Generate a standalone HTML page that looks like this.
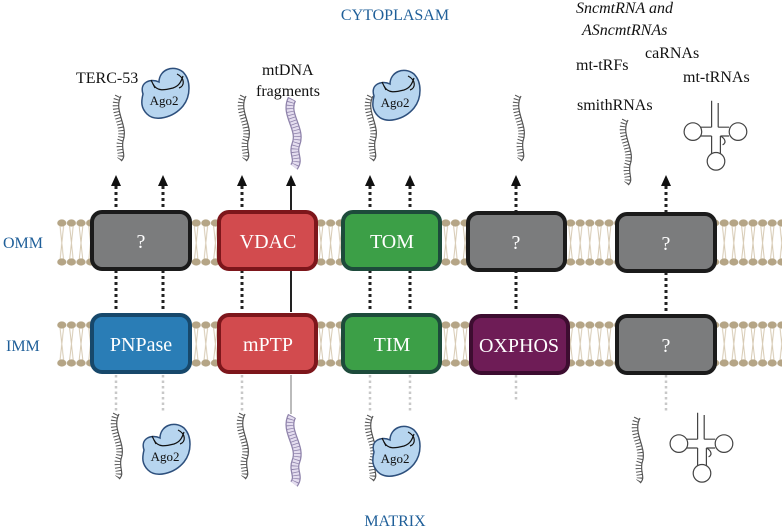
<!DOCTYPE html>
<html><head><meta charset="utf-8"><style>
html,body{margin:0;padding:0;background:#fff;}
svg{display:block;}
text{font-family:"Liberation Serif",serif;}
</style></head><body>
<svg width="782" height="528" viewBox="0 0 782 528" xmlns="http://www.w3.org/2000/svg">
<defs>
<pattern id="lip" x="57" y="0" width="9.6" height="528" patternUnits="userSpaceOnUse">
  <path d="M3,226 L4.8,243 L3,260 M6.6,226 L4.8,243 L6.6,260" stroke="#d6c9b2" stroke-width="1" fill="none"/>
  <path d="M3,328 L4.8,344 L3,360 M6.6,328 L4.8,344 L6.6,360" stroke="#d6c9b2" stroke-width="1" fill="none"/>
  <ellipse cx="4.8" cy="223" rx="4.6" ry="3.6" fill="#b5a586"/>
  <ellipse cx="4.8" cy="262" rx="4.6" ry="3.6" fill="#b5a586"/>
  <ellipse cx="4.8" cy="325" rx="4.6" ry="3.6" fill="#b5a586"/>
  <ellipse cx="4.8" cy="363" rx="4.6" ry="3.6" fill="#b5a586"/>
</pattern>
<g id="ss">
  <path d="M0,0 C-8,15 8,30 2,45 C0,55 6,60 0,65" fill="none" stroke="#555" stroke-width="6" stroke-dasharray="1 2.2"/>
  <path d="M3,0 C-5,15 11,30 5,45 C3,55 9,60 3,65" fill="none" stroke="#555" stroke-width="1.2"/>
</g>
<g id="ds">
  <path d="M0,0 C-8,15 10,30 4,45 C0,55 8,60 2,68" fill="none" stroke="#8e82aa" stroke-width="9"/>
  <path d="M0,0 C-8,15 10,30 4,45 C0,55 8,60 2,68" fill="none" stroke="#e4ddef" stroke-width="6.5"/>
  <path d="M0,0 C-8,15 10,30 4,45 C0,55 8,60 2,68" fill="none" stroke="#8e82aa" stroke-width="7" stroke-dasharray="0.8 2.4"/>
</g>
<g id="ago">
  <path d="M-22,-2 C-26,-14 -14,-18 -6,-14 C-6,-26 8,-32 18,-24 C26,-16 26,0 18,10 C8,22 -10,26 -18,18 C-24,12 -24,6 -22,-2 Z" fill="#b7d5ef" stroke="#2d4f7c" stroke-width="1.5"/>
  <path d="M-12,-12 C-8,-4 0,-6 8,-8 C14,-10 16,-14 18,-20" fill="none" stroke="#111" stroke-width="1.2"/>
  <path d="M-14,-16 L-10,-8 M12,-22 C20,-18 20,-10 14,-8" fill="none" stroke="#111" stroke-width="1.2"/>
  <text x="-1" y="9" font-size="13" text-anchor="middle" fill="#111">Ago2</text>
</g>
<g id="trna" fill="none" stroke="#444" stroke-width="1.1">
  <path d="M-4,-32 L-4,-8 M2,-30 L2,-8"/>
  <path d="M-4,-8 L-14,-8 M-4,0 L-14,0"/>
  <circle cx="-21" cy="-4" r="8"/>
  <path d="M2,-8 L12,-8 M4,0 L12,0"/>
  <circle cx="20" cy="-4" r="8"/>
  <path d="M-4,0 L-4,16 M4,0 L4,16"/>
  <circle cx="0" cy="23" r="8"/>
  <path d="M4,0 C8,2 10,6 6,8" />
</g>
</defs>

<rect x="57" y="216" width="725" height="52" fill="url(#lip)"/>
<rect x="57" y="318" width="725" height="50" fill="url(#lip)"/>

<g stroke="#222" stroke-width="3" stroke-dasharray="3 3">
  <path d="M116,186 V312 M163,186 V312 M242,186 V312 M370,186 V312 M410,186 V312 M516,186 V312 M666,186 V212"/>
</g>
<path d="M291,186 V312" stroke="#222" stroke-width="2"/>
<path d="M666,272 V312" stroke="#222" stroke-width="3" stroke-dasharray="3 3"/>
<g fill="#111">
  <path d="M111,186 L121,186 L116,175 Z"/><path d="M158,186 L168,186 L163,175 Z"/>
  <path d="M237,186 L247,186 L242,175 Z"/><path d="M286,186 L296,186 L291,175 Z"/>
  <path d="M365,186 L375,186 L370,175 Z"/><path d="M405,186 L415,186 L410,175 Z"/>
  <path d="M511,186 L521,186 L516,175 Z"/><path d="M661,186 L671,186 L666,175 Z"/>
</g>
<g stroke="#c8c8c8" stroke-width="2.5" stroke-dasharray="2.5 3">
  <path d="M116,375 V412 M163,375 V412 M242,375 V412 M370,375 V412 M410,375 V412 M516,375 V400 M666,375 V412"/>
</g>
<path d="M291,375 V414" stroke="#bbb" stroke-width="2"/>

<g stroke-width="4">
  <rect x="92" y="212" width="98" height="57" rx="10" fill="#7b7c7d" stroke="#1b1b1b"/>
  <rect x="219" y="212" width="97" height="57" rx="10" fill="#d24b4e" stroke="#7d161b"/>
  <rect x="343" y="212" width="97" height="57" rx="10" fill="#3c9f47" stroke="#1d4b3b"/>
  <rect x="468" y="213" width="97" height="57" rx="10" fill="#7b7c7d" stroke="#1b1b1b"/>
  <rect x="617" y="214" width="98" height="57" rx="10" fill="#7b7c7d" stroke="#1b1b1b"/>
  <rect x="92" y="315" width="98" height="57" rx="10" fill="#2a7db6" stroke="#17486b"/>
  <rect x="219" y="315" width="97" height="57" rx="10" fill="#d24b4e" stroke="#7d161b"/>
  <rect x="343" y="315" width="97" height="57" rx="10" fill="#3c9f47" stroke="#1d4b3b"/>
  <rect x="471" y="316" width="97" height="57" rx="10" fill="#6e1c56" stroke="#3d0d30"/>
  <rect x="617" y="316" width="98" height="57" rx="10" fill="#7b7c7d" stroke="#1b1b1b"/>
</g>
<g fill="#fff" font-size="20" text-anchor="middle">
  <text x="141" y="248">?</text>
  <text x="268" y="248">VDAC</text>
  <text x="392" y="248">TOM</text>
  <text x="516" y="249">?</text>
  <text x="666" y="250">?</text>
  <text x="141" y="351">PNPase</text>
  <text x="268" y="351">mPTP</text>
  <text x="392" y="351">TIM</text>
  <text x="519" y="352">OXPHOS</text>
  <text x="666" y="352">?</text>
</g>

<g fill="#1f5f99" font-size="16">
  <text x="395" y="20" text-anchor="middle">CYTOPLASAM</text>
  <text x="395" y="526" text-anchor="middle">MATRIX</text>
  <text x="3" y="248">OMM</text>
  <text x="6" y="351">IMM</text>
</g>
<g fill="#111" font-size="16">
  <text x="76" y="83">TERC-53</text>
  <text x="262" y="75">mtDNA</text>
  <text x="256" y="96">fragments</text>
  <text x="576" y="13" font-style="italic">SncmtRNA and</text>
  <text x="582" y="35" font-style="italic">ASncmtRNAs</text>
  <text x="645" y="58">caRNAs</text>
  <text x="576" y="70">mt-tRFs</text>
  <text x="683" y="82">mt-tRNAs</text>
  <text x="577" y="110">smithRNAs</text>
</g>

<use href="#ss" x="118" y="96"/>
<use href="#ago" x="165" y="96"/>
<use href="#ss" x="243" y="96"/>
<use href="#ds" x="292" y="99"/>
<use href="#ss" x="370" y="96"/>
<use href="#ago" x="396" y="98"/>
<use href="#ss" x="518" y="96"/>
<use href="#ss" x="625" y="120"/>
<g transform="translate(716,136) scale(1.1)"><use href="#trna"/></g>

<use href="#ss" x="116" y="414"/>
<use href="#ago" x="166" y="452"/>
<use href="#ss" x="242" y="414"/>
<use href="#ds" x="292" y="416"/>
<use href="#ss" x="370" y="416"/>
<use href="#ago" x="396" y="454"/>
<use href="#ss" x="637" y="418"/>
<g transform="translate(702,448) scale(1.1)"><use href="#trna"/></g>
</svg>
</body></html>
